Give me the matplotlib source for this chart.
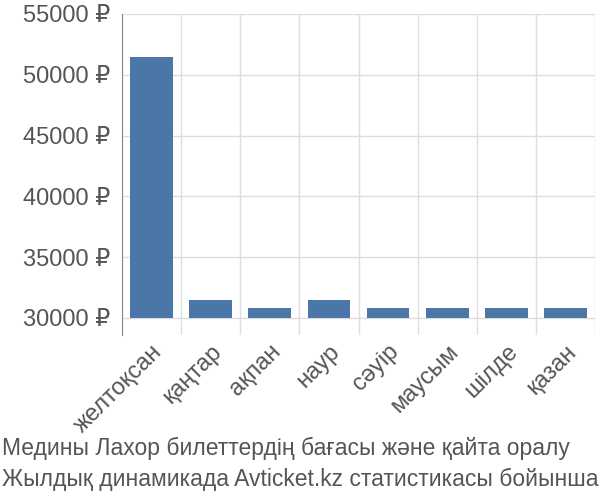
import numpy as np
import matplotlib.pyplot as plt
from matplotlib.ticker import FixedLocator

plt.rcParams['font.family'] = ['Liberation Sans', 'DejaVu Sans']

months = ['желтоқсан', 'қаңтар', 'ақпан', 'наур', 'сәуір', 'маусым', 'шілде', 'қазан']
prices = [51500, 31500, 30800, 31500, 30800, 30800, 30800, 30800]
yticks = [30000, 35000, 40000, 45000, 50000, 55000]
base = 30000

fig = plt.figure(figsize=(6, 5), dpi=100)
ax = fig.add_axes([0.203, 0.33, 0.789, 0.642])
x = np.arange(len(months))
ax.bar(x, [p - base for p in prices], bottom=base, width=0.72, color='#4a76a8', zorder=3)
ax.set_xlim(-0.5, len(months) - 0.5)
ax.set_ylim(28600, 55000)
ax.set_yticks(yticks)
ax.set_yticklabels([f'{v} ₽' for v in yticks], fontsize=17, color='#555555')
ax.set_xticks(x)
ax.set_xticklabels(months, rotation=45, ha='right', rotation_mode='anchor', fontsize=17, color='#555555')
ax.tick_params(axis='x', length=0, pad=4)
ax.tick_params(axis='y', length=0, pad=8)
ax.xaxis.set_minor_locator(FixedLocator(np.arange(-0.5, len(months), 1.0)))
ax.tick_params(axis='x', which='minor', length=0)
ax.grid(True, which='major', axis='y', color='#dddddd', lw=1, zorder=0)
ax.grid(True, which='minor', axis='x', color='#dddddd', lw=1, zorder=0)
for s in ['top', 'right', 'bottom']:
    ax.spines[s].set_visible(False)
ax.spines['left'].set_color('#888888')

fig.text(0.003, 0.09, 'Медины Лахор билеттердің бағасы және қайта оралу', fontsize=16.5, color='#555555')
fig.text(0.003, 0.028, 'Жылдық динамикада Avticket.kz статистикасы бойынша.', fontsize=16.5, color='#555555')
fig.savefig('out.png')
